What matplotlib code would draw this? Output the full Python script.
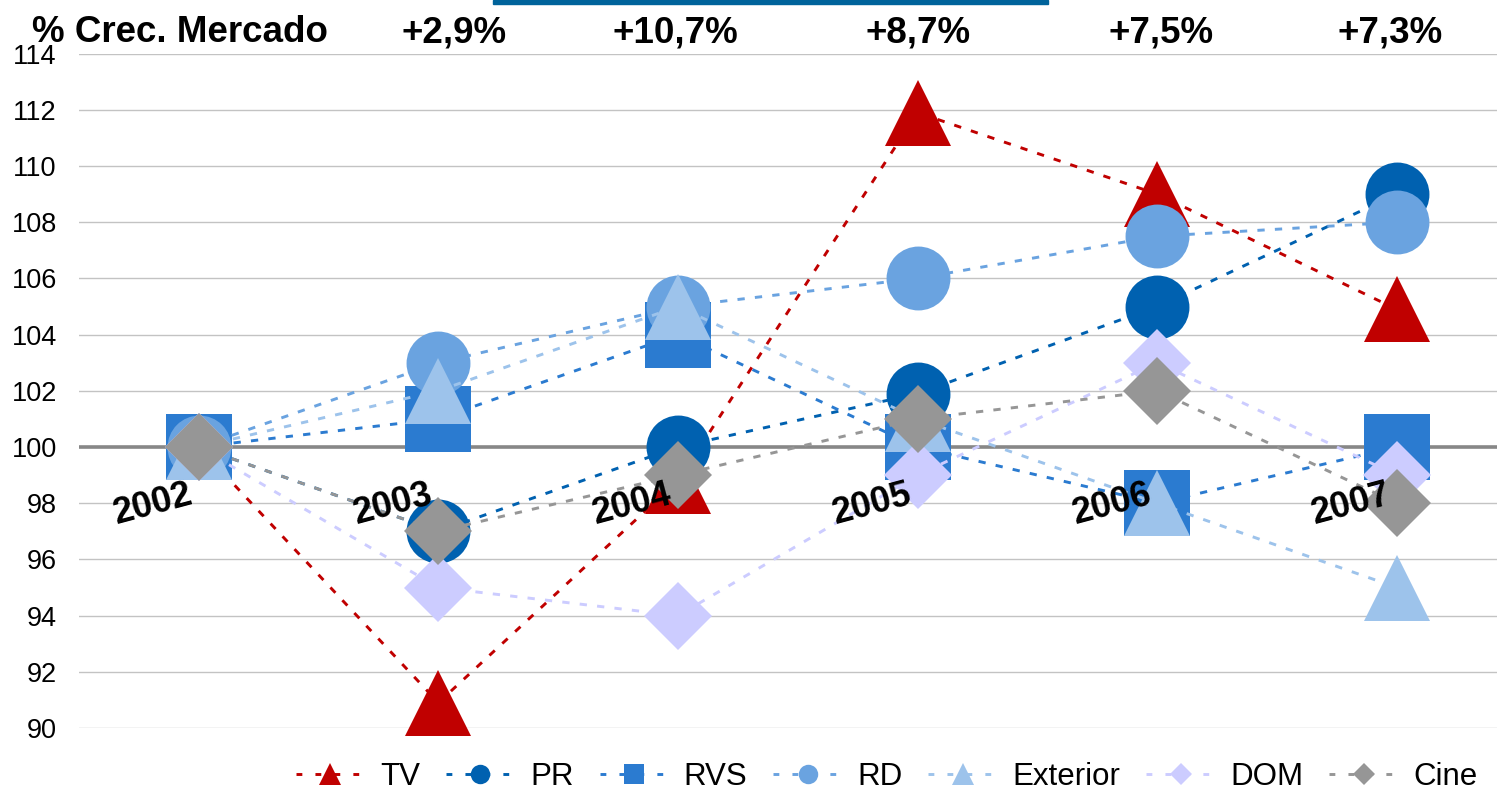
import matplotlib
matplotlib.use("Agg")
import matplotlib.pyplot as plt
from matplotlib.lines import Line2D
from matplotlib import transforms

plt.rcParams['font.family'] = ['Liberation Sans', 'DejaVu Sans']

# ---------------- data ----------------
years = ["2002", "2003", "2004", "2005", "2006", "2007"]
growth_labels = ["+2,9%", "+10,7%", "+8,7%", "+7,5%", "+7,3%"]
header_title = "% Crec. Mercado"

series_names = ["TV", "PR", "RVS", "RD", "Exterior", "DOM", "Cine"]
tv = [100, 90.9, 98.8, 111.9, 109.0, 104.9]
pr = [100, 97.0, 100.0, 101.9, 105.0, 109.0]
rvs = [100, 101.0, 104.0, 100.0, 98.0, 100.0]
rd = [100, 103.0, 105.0, 106.0, 107.5, 108.0]
exterior = [100, 102.0, 105.0, 101.0, 98.0, 95.0]
dom = [100, 95.0, 94.0, 99.0, 103.0, 99.0]
cine = [100, 97.0, 99.0, 101.0, 102.0, 98.0]
series_values = [tv, pr, rvs, rd, exterior, dom, cine]

# ---------------- styles ----------------
colors = ['#C00000', '#0061B0', '#2B7BD0', '#6AA3E0', '#9DC3EB', '#CCCCFF', '#969696']
markers = ['^', 'o', 's', 'o', '^', 'D', 'D']
msizes = [48, 46, 47, 46, 48, 35, 35]
leg_msizes = [16, 14, 14, 14, 16, 11, 11]

W, H = 1497, 792
fig = plt.figure(figsize=(W / 100, H / 100), dpi=100)
ax_left, ax_top, ax_bottom = 79, 53.6, 728
ax = fig.add_axes([ax_left / W, (H - ax_bottom) / H, (W - ax_left) / W, (ax_bottom - ax_top) / H])

xs = list(range(len(years)))
ax.set_xlim(-0.5, -0.5 + (W - ax_left) / 239.6)
ax.set_ylim(90, 114)
ax.set_yticks(range(90, 115, 2))
ax.yaxis.grid(True, color='#C3C3C3', lw=1.0)
ax.set_axisbelow(True)
for s in ax.spines.values():
    s.set_visible(False)
ax.tick_params(axis='y', length=0, pad=16, labelsize=19.5, labelcolor='black')
ax.set_xticks([])

ax.axhline(100, color='#878787', lw=2.6, zorder=1.5)

for i, (name, vals) in enumerate(zip(series_names, series_values)):
    ax.plot(xs, vals, color=colors[i], lw=2.1, linestyle=(0, (2.5, 3.5)),
            marker=markers[i], markersize=msizes[i], markeredgewidth=0,
            clip_on=False, zorder=3 + i)

# category labels (rotated, next to the 100 axis)
for x, lab in zip(xs, years):
    ax.annotate(lab, xy=(x, 100), xytext=(-8, -22), textcoords='offset points',
                rotation=15, rotation_mode='anchor', ha='right', va='top',
                fontsize=26, fontweight='bold', zorder=20)

# header
fig.text(32 / W, (H - 42.5) / H, header_title, ha='left', va='baseline',
         fontsize=26.5, fontweight='bold')
blend = transforms.blended_transform_factory(ax.transData, fig.transFigure)
nudges = [16, -3, 0, 4, -7]
for x, lab, dx in zip(xs[1:], growth_labels, nudges):
    t = ax.text(x, (H - 42.5) / H, lab, transform=blend + transforms.ScaledTranslation(dx / 100, 0, fig.dpi_scale_trans),
                ha='center', va='baseline', fontsize=26.5, fontweight='bold')
    t.set_clip_on(False)

# blue bar on top
fig.patches.append(plt.Rectangle((493 / W, (H - 4) / H), (1048 - 493) / W, 4 / H,
                                 transform=fig.transFigure, color='#00639B', zorder=10))

# legend
handles = [Line2D([0], [0], color=colors[i], lw=2.1, linestyle=(0, (2.0, 4.5)),
                  marker=markers[i], markersize=leg_msizes[i], markeredgewidth=0)
           for i in range(len(series_names))]
fig.legend(handles, series_names, loc='center right', bbox_to_anchor=(1478 / W, 15 / H),
           ncol=7, frameon=False, fontsize=22.5, handlelength=2.2, handletextpad=0.5,
           columnspacing=0.82, borderpad=0, borderaxespad=0)

fig.savefig("out.png", dpi=100)
